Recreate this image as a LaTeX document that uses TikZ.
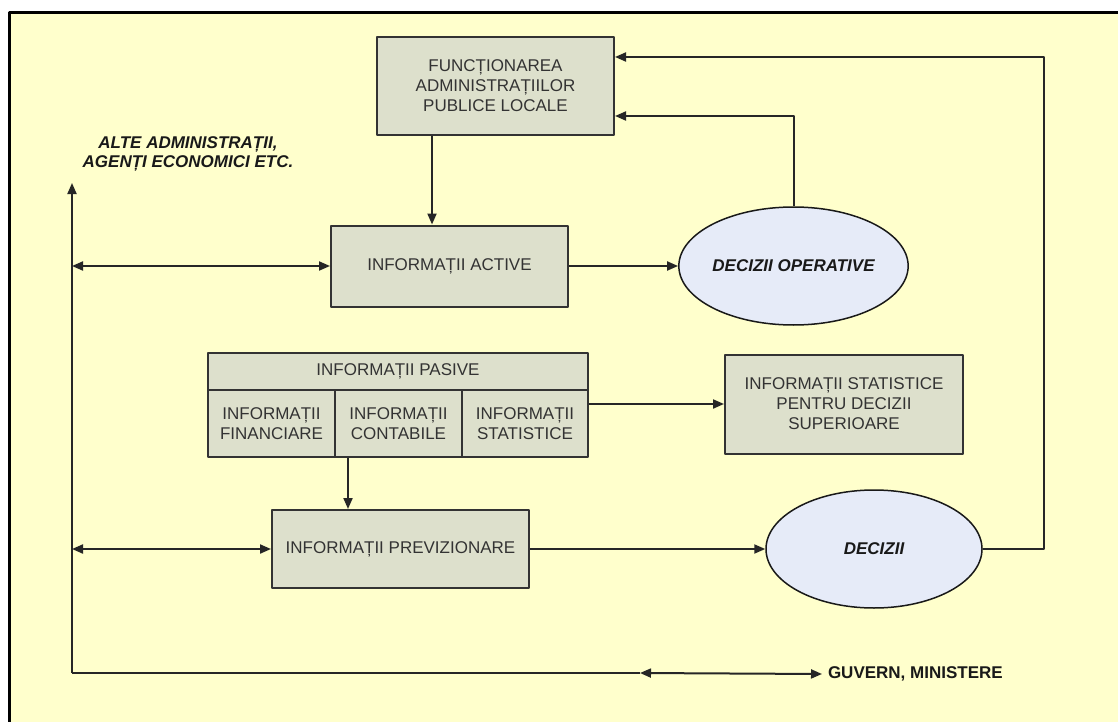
\documentclass[tikz,border=0pt]{standalone}
\usepackage{fontspec}
\setmainfont{Liberation Sans}
\usetikzlibrary{arrows.meta,shapes.geometric}
\definecolor{bgyellow}{HTML}{FFFFCC}
\definecolor{boxgray}{HTML}{DDE0CC}
\definecolor{ovalblue}{HTML}{E6EBF8}
\begin{document}
\begin{tikzpicture}[x=1pt,y=-1pt,>={Triangle[length=11pt,width=9pt]},line width=2pt,line join=round,
	every node/.style={font=\fontsize{17}{20}\selectfont,text=black!80},
	box/.style={draw=black!80,fill=boxgray,align=center,inner sep=2pt},
	oval/.style={ellipse,draw=black!90,line width=1.5pt,fill=ovalblue,inner sep=0pt,text=black!90,font=\fontsize{17}{20}\selectfont\bfseries\itshape},
	link/.style={draw=black!85}]
	\useasboundingbox (0,0) rectangle (1118,722);
	\fill[white] (0,0) rectangle (1118,722);
	\fill[bgyellow] (9,13) rectangle (1118,722);
	\draw[line width=3pt] (9,722) -- (9,13) -- (1118,13);
	% boxes
	\node[box,minimum width=237pt,minimum height=98pt] (func) at (495.5,86) {FUNCȚIONAREA\\ADMINISTRAȚIILOR\\PUBLICE LOCALE};
	\node[box,minimum width=237pt,minimum height=81pt] (act) at (449.5,266) {INFORMAȚII ACTIVE};
	\node[oval,minimum width=218pt,minimum height=118pt] (decop) at (793.5,266) {DECIZII OPERATIVE};
	\node[box,minimum width=380pt,minimum height=37pt] (pas) at (398,371.5) {INFORMAȚII PASIVE};
	\node[box,minimum width=127pt,minimum height=67pt] (fin) at (271.5,423.5) {INFORMAȚII\\FINANCIARE};
	\node[box,minimum width=127pt,minimum height=67pt] (cont) at (398.5,423.5) {INFORMAȚII\\CONTABILE};
	\node[box,minimum width=126pt,minimum height=67pt] (stat) at (525,423.5) {INFORMAȚII\\STATISTICE};
	\node[box,minimum width=238pt,minimum height=99pt] (sup) at (844,404) {INFORMAȚII STATISTICE\\PENTRU DECIZII\\SUPERIOARE};
	\node[box,minimum width=257pt,minimum height=78pt] (prev) at (400.5,549) {INFORMAȚII PREVIZIONARE};
	\node[oval,minimum width=216pt,minimum height=118pt] (dec) at (874,549) {DECIZII};
	\node[align=center,text=black!90,font=\fontsize{17}{18.5}\selectfont\bfseries\itshape] (alte) at (188,154) {ALTE ADMINISTRAȚII,\\AGENȚI ECONOMICI ETC.};
	\node[anchor=west,inner xsep=5pt,inner ysep=0pt,text=black!90,font=\fontsize{17}{20}\selectfont\bfseries] (guv) at (822,674) {GUVERN, MINISTERE};
	% helper points
	\coordinate (top) at (72,183);
	\coordinate (corner) at (72,673);
	\coordinate (mid) at (640,673);
	\coordinate (ret) at (1044,57);
	\coordinate (back) at (0,116);
	\coordinate (drop1) at (432,0);
	\coordinate (drop2) at (348,0);
	% connectors
	\draw[link,->] (func.south -| drop1) -- (act.north -| drop1);
	\draw[link,->] (act.east) -- (decop.west);
	\draw[link,->] (decop.north) |- (func.east |- back);
	\draw[link,->] (dec.east) -| (ret) -- (func.east |- ret);
	\draw[link,->] (stat.east |- sup.west) -- (sup.west);
	\draw[link,->] (cont.south -| drop2) -- (prev.north -| drop2);
	\draw[link,->] (prev.east) -- (dec.west);
	\draw[link,<->] (act.west -| top) -- (act.west);
	\draw[link,<->] (prev.west -| top) -- (prev.west);
	\draw[link,->] (corner) -- (top);
	\draw[link] (corner) -- (mid);
	\draw[link,<->] (mid) -- (guv.west);
\end{tikzpicture}
\end{document}
